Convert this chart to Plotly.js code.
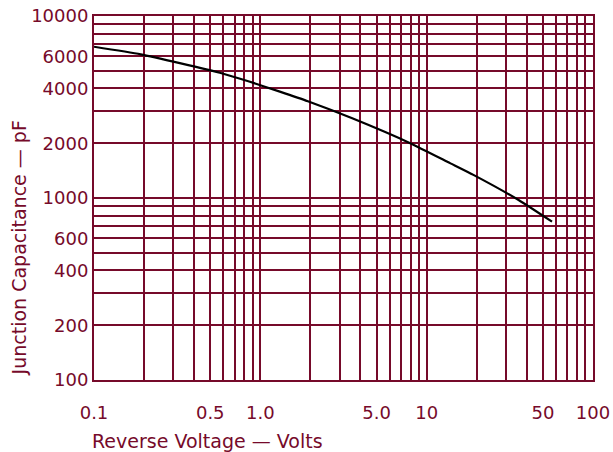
<!DOCTYPE html>
<html>
<head>
<meta charset="utf-8">
<script src="https://cdn.plot.ly/plotly-3.0.1.min.js"></script>
<style>
  html, body { margin: 0; padding: 0; background: #ffffff; }
  #chart { width: 613px; height: 452px; }
</style>
</head>
<body>
<div id="chart"></div>
<script>
// Reverse voltage (V) and junction capacitance (pF)
const reverseVoltage = [0.1, 0.191, 0.571, 0.866, 1.31, 1.93, 3.57, 7.96, 13.9, 19.1, 35.7, 56.7];
const capacitance    = [6780, 6160, 4880, 4350, 3840, 3400, 2740, 2000, 1550, 1340, 975, 741];

// Grid / tick positions and labels
const xTickVals = [0.1, 0.2, 0.3, 0.4, 0.5, 0.6, 0.7, 0.8, 0.9,
                   1, 2, 3, 4, 5, 6, 7, 8, 9,
                   10, 20, 30, 40, 50, 60, 70, 80, 90, 100];
const xTickText = ['0.1', '', '', '', '0.5', '', '', '', '',
                   '1.0', '', '', '', '5.0', '', '', '', '',
                   '10', '', '', '', '50', '', '', '', '', '100'];
const yTickVals = [100, 200, 300, 400, 500, 600, 700, 800, 900,
                   1000, 2000, 3000, 4000, 5000, 6000, 7000, 8000, 9000, 10000];
const yTickText = ['100', '200', '', '400', '', '600', '', '', '',
                   '1000', '2000', '', '4000', '', '6000', '', '', '', '10000'];

const xTitle = 'Reverse Voltage — Volts';
const yTitle = 'Junction Capacitance — pF';

const maroon = '#760a2a';
const fontFamily = 'DejaVu Sans, Liberation Sans, sans-serif';

const trace = {
  x: reverseVoltage,
  y: capacitance,
  type: 'scatter',
  mode: 'lines',
  line: { color: '#000000', width: 2.2, shape: 'spline', smoothing: 0.5 },
  hoverinfo: 'x+y'
};

const layout = {
  width: 613,
  height: 452,
  margin: { l: 94, r: 20, t: 16, b: 72 },
  paper_bgcolor: '#ffffff',
  plot_bgcolor: '#ffffff',
  showlegend: false,
  font: { family: fontFamily, color: maroon, size: 18 },
  xaxis: {
    type: 'log',
    range: [-1, 2],
    tickmode: 'array',
    tickvals: xTickVals,
    ticktext: xTickText,
    showgrid: true,
    gridcolor: maroon,
    gridwidth: 2,
    showline: true,
    mirror: true,
    linecolor: maroon,
    linewidth: 2,
    ticks: '',
    ticklabelstandoff: 15,
    zeroline: false,
    tickfont: { family: fontFamily, color: maroon, size: 18 }
  },
  yaxis: {
    type: 'log',
    range: [2, 4],
    tickmode: 'array',
    tickvals: yTickVals,
    ticktext: yTickText,
    showgrid: true,
    gridcolor: maroon,
    gridwidth: 2,
    showline: true,
    mirror: true,
    linecolor: maroon,
    linewidth: 2,
    ticks: '',
    zeroline: false,
    tickfont: { family: fontFamily, color: maroon, size: 18 }
  },
  annotations: [
    {
      text: xTitle,
      xref: 'paper', yref: 'paper',
      x: -0.008, y: -0.168,
      xanchor: 'left', yanchor: 'middle',
      showarrow: false,
      font: { family: fontFamily, color: maroon, size: 19 }
    },
    {
      text: yTitle,
      xref: 'paper', yref: 'paper',
      x: -0.150, y: 0.362,
      xanchor: 'center', yanchor: 'middle',
      textangle: -90,
      showarrow: false,
      font: { family: fontFamily, color: maroon, size: 19 }
    }
  ]
};

Plotly.newPlot('chart', [trace], layout, { displayModeBar: false, staticPlot: true });
</script>
</body>
</html>
